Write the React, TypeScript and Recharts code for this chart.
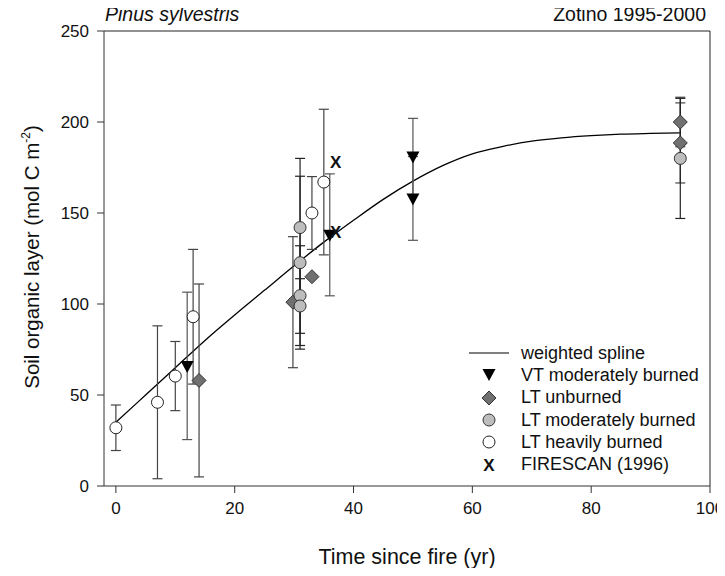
import {
  ComposedChart,
  ErrorBar,
  Line,
  ReferenceLine,
  Scatter,
  XAxis,
  YAxis,
} from "recharts";

// weighted spline
const splineX = [0, 5, 10, 15, 20, 25, 30, 35, 40, 45, 50, 55, 60, 65, 70, 75, 80, 85, 90, 95];
const splineY = [35, 50, 65, 80, 94, 107.5, 121, 134, 146, 157.5, 167.5, 176, 182.5, 186.5, 189.5, 191.3, 192.5, 193.3, 193.7, 194];

// VT moderately burned
const vtX = [12, 36, 50, 50];
const vtY = [66, 138, 181, 158];
const vtErr = [40.5, 33.5, 21, 23];

// LT unburned
const ltUnX = [14, 29.8, 33, 95, 95];
const ltUnY = [58, 101, 115, 200, 188.5];
const ltUnErr = [53, 36, 0, 13.6, 22];

// LT moderately burned
const ltModX = [31, 31, 31, 31, 95];
const ltModY = [142, 122.7, 104.6, 98.9, 180];
const ltModErr = [38, 47.5, 27.4, 15, 33];

// LT heavily burned
const ltHeavyX = [0, 7, 10, 13, 33, 35];
const ltHeavyY = [32, 46, 60.4, 93, 150, 167];
const ltHeavyErr = [12.5, 42, 19, 37, 20, 40];

// FIRESCAN (1996)
const firescanX = [37, 37];
const firescanY = [139.5, 177.6];

const xTicks = [0, 20, 40, 60, 80, 100];
const yTicks = [0, 50, 100, 150, 200, 250];

const legendItems = [
  "weighted spline",
  "VT moderately burned",
  "LT unburned",
  "LT moderately burned",
  "LT heavily burned",
  "FIRESCAN (1996)",
];

const FONT = "'Liberation Sans', Arial, Helvetica, sans-serif";

const toPoints = (xs: number[], ys: number[], errs?: number[]) =>
  xs.map((x, i) => ({ x, y: ys[i], err: errs ? errs[i] : 0 }));

const splineData = splineX.map((x, i) => ({ x, y: splineY[i] }));

function TriangleDown({ cx, cy }: any) {
  return (
    <polygon
      points={`${cx - 6.5},${cy - 5} ${cx + 6.5},${cy - 5} ${cx},${cy + 7}`}
      fill="#000"
    />
  );
}

function Diamond({ cx, cy }: any) {
  return (
    <polygon
      points={`${cx},${cy - 7} ${cx + 7},${cy} ${cx},${cy + 7} ${cx - 7},${cy}`}
      fill="#707070"
      stroke="#333"
      strokeWidth={1}
    />
  );
}

function GreyCircle({ cx, cy }: any) {
  return <circle cx={cx} cy={cy} r={6} fill="#bdbdbd" stroke="#333" strokeWidth={1} />;
}

function OpenCircle({ cx, cy }: any) {
  return <circle cx={cx} cy={cy} r={6} fill="#fff" stroke="#222" strokeWidth={1} />;
}

function Cross({ cx, cy }: any) {
  return (
    <text
      x={cx}
      y={cy}
      textAnchor="middle"
      dominantBaseline="central"
      fontFamily={FONT}
      fontWeight="bold"
      fontSize={17}
      fill="#111"
    >
      X
    </text>
  );
}

function LegendSymbol({ index }: { index: number }) {
  const c = 10;
  return (
    <svg width={42} height={20} style={{ overflow: "visible" }}>
      {index === 0 && <line x1={0} y1={c} x2={40} y2={c} stroke="#000" strokeWidth={1.2} />}
      {index === 1 && <TriangleDown cx={20} cy={c - 1} />}
      {index === 2 && <Diamond cx={20} cy={c} />}
      {index === 3 && <GreyCircle cx={20} cy={c} />}
      {index === 4 && <OpenCircle cx={20} cy={c} />}
      {index === 5 && <Cross cx={20} cy={c} />}
    </svg>
  );
}

export default function App() {
  const tickStyle = { fontFamily: FONT, fontSize: 17, fill: "#111" };
  return (
    <div
      style={{
        margin: -8,
        width: 725,
        height: 576,
        position: "relative",
        overflow: "hidden",
        background: "#fff",
        fontFamily: FONT,
        color: "#111",
      }}
    >
      <ComposedChart
        width={725}
        height={576}
        margin={{ top: 31, right: 15, left: 40, bottom: 30 }}
      >
        <XAxis
          type="number"
          dataKey="x"
          domain={[-2, 100]}
          ticks={xTicks}
          allowDataOverflow
          stroke="#333"
          tickSize={7}
          tickMargin={9}
          tick={tickStyle}
          height={60}
        />
        <YAxis
          type="number"
          dataKey="y"
          domain={[0, 250]}
          ticks={yTicks}
          stroke="#333"
          tickSize={7}
          tickMargin={8}
          tick={tickStyle}
          width={64}
        />
        <ReferenceLine y={250} stroke="#222" strokeWidth={1} />
        <ReferenceLine x={100} stroke="#222" strokeWidth={1} />
        <Line
          data={splineData}
          dataKey="y"
          type="monotone"
          stroke="#000"
          strokeWidth={1.3}
          dot={false}
          activeDot={false}
          isAnimationActive={false}
        />
        <Scatter data={toPoints(vtX, vtY, vtErr)} dataKey="y" shape={TriangleDown} isAnimationActive={false}>
          <ErrorBar dataKey="err" direction="y" width={5} stroke="#555" strokeWidth={1.2} />
        </Scatter>
        <Scatter data={toPoints(ltUnX, ltUnY, ltUnErr)} dataKey="y" shape={Diamond} isAnimationActive={false}>
          <ErrorBar dataKey="err" direction="y" width={5} stroke="#444" strokeWidth={1.2} />
        </Scatter>
        <Scatter data={toPoints(ltModX, ltModY, ltModErr)} dataKey="y" shape={GreyCircle} isAnimationActive={false}>
          <ErrorBar dataKey="err" direction="y" width={5} stroke="#222" strokeWidth={1.2} />
        </Scatter>
        <Scatter data={toPoints(ltHeavyX, ltHeavyY, ltHeavyErr)} dataKey="y" shape={OpenCircle} isAnimationActive={false}>
          <ErrorBar dataKey="err" direction="y" width={5} stroke="#444" strokeWidth={1.2} />
        </Scatter>
        <Scatter data={toPoints(firescanX, firescanY)} dataKey="y" shape={Cross} isAnimationActive={false} />
      </ComposedChart>

      <div style={{ position: "absolute", left: 105, top: 4, fontSize: 19.5, lineHeight: "20px", fontStyle: "italic" }}>
        Pinus sylvestris
      </div>
      <div style={{ position: "absolute", right: 19, top: 4, fontSize: 19.5, lineHeight: "20px" }}>
        Zotino 1995-2000
      </div>

      <div
        style={{
          position: "absolute",
          left: 29,
          top: 257,
          transform: "translate(-50%, -50%) rotate(-90deg)",
          whiteSpace: "nowrap",
          fontSize: 20.5,
          lineHeight: "24px",
        }}
      >
        Soil organic layer (mol C m<sup style={{ fontSize: 12, verticalAlign: "9px" }}>-2</sup>)
      </div>
      <div
        style={{
          position: "absolute",
          left: 407,
          top: 557,
          transform: "translate(-50%, -50%)",
          whiteSpace: "nowrap",
          fontSize: 21.5,
          lineHeight: "24px",
        }}
      >
        Time since fire (yr)
      </div>

      <div style={{ position: "absolute", left: 469, top: 342 }}>
        {legendItems.map((name, i) => (
          <div key={name} style={{ display: "flex", alignItems: "center", height: 22.3, fontSize: 18 }}>
            <LegendSymbol index={i} />
            <span style={{ marginLeft: 10 }}>{name}</span>
          </div>
        ))}
      </div>
    </div>
  );
}
